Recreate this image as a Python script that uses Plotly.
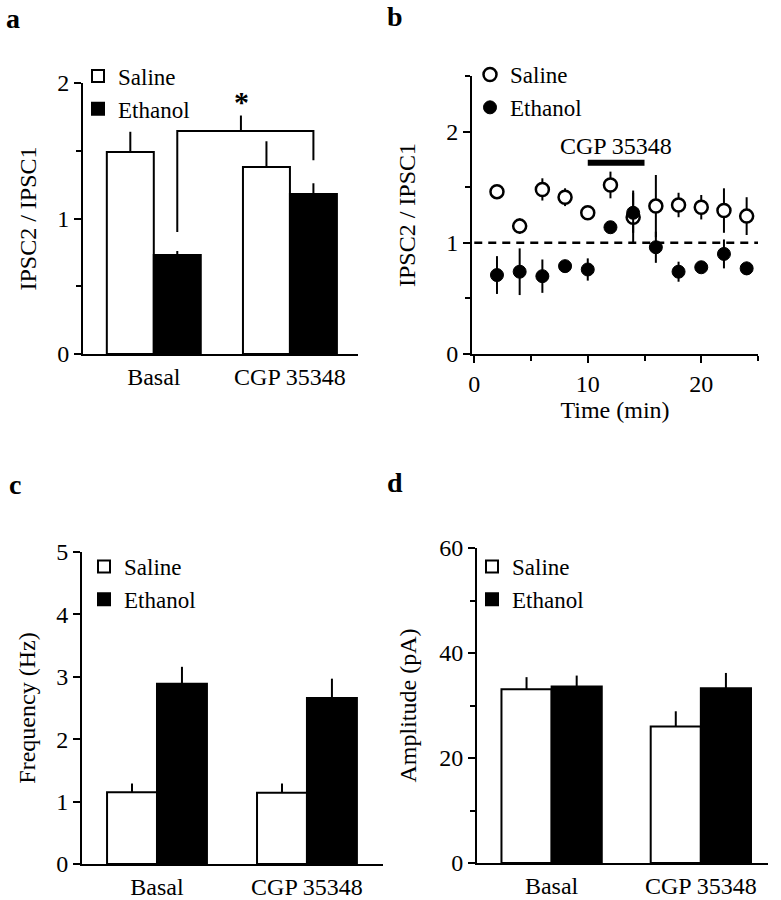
import plotly.graph_objects as go

# ---------------- data ----------------
categories = ["Basal", "CGP 35348"]

# panel a : IPSC2/IPSC1
a_saline = [1.49, 1.38]
a_saline_err = [0.15, 0.19]
a_ethanol = [0.73, 1.18]
a_ethanol_err = [0.03, 0.08]

# panel b : time course
b_time = [2, 4, 6, 8, 10, 12, 14, 16, 18, 20, 22, 24]
b_saline = [1.46, 1.15, 1.48, 1.41, 1.27, 1.52, 1.23, 1.33, 1.34, 1.32, 1.29, 1.24]
b_saline_err = [0.04, 0.07, 0.10, 0.08, 0.03, 0.12, 0.24, 0.28, 0.11, 0.11, 0.20, 0.17]
b_ethanol = [0.71, 0.74, 0.70, 0.79, 0.76, 1.14, 1.27, 0.96, 0.74, 0.78, 0.90, 0.77]
b_ethanol_err = [0.17, 0.21, 0.15, 0.03, 0.10, 0.03, 0.18, 0.14, 0.09, 0.03, 0.13, 0.06]

# panel c : frequency (Hz)
c_saline = [1.15, 1.14]
c_saline_err = [0.14, 0.15]
c_ethanol = [2.89, 2.66]
c_ethanol_err = [0.27, 0.31]

# panel d : amplitude (pA)
d_saline = [33.1, 26.0]
d_saline_err = [2.3, 2.9]
d_ethanol = [33.6, 33.3]
d_ethanol_err = [2.1, 2.9]

FONT = "Liberation Serif, Times New Roman, serif"
FS = 24
W, H = 781, 900

fig = go.Figure()


def add_bars(sal, sal_err, eth, eth_err, xa, ya, leg, bw):
    xs = [0, 1]
    fig.add_trace(go.Bar(
        x=xs, y=sal, width=bw, offset=-bw, name="Saline",
        marker=dict(color="white", line=dict(color="black", width=2)),
        error_y=dict(type="data", array=sal_err, arrayminus=[0, 0], symmetric=False,
                     width=0, thickness=2, color="black"),
        xaxis=xa, yaxis=ya, legend=leg))
    fig.add_trace(go.Bar(
        x=xs, y=eth, width=bw, offset=0, name="Ethanol",
        marker=dict(color="black", line=dict(color="black", width=2)),
        error_y=dict(type="data", array=eth_err, arrayminus=[0, 0], symmetric=False,
                     width=0, thickness=2, color="black"),
        xaxis=xa, yaxis=ya, legend=leg))


add_bars(a_saline, a_saline_err, a_ethanol, a_ethanol_err, "x", "y", "legend", 0.345)
add_bars(c_saline, c_saline_err, c_ethanol, c_ethanol_err, "x3", "y3", "legend3", 0.333)
add_bars(d_saline, d_saline_err, d_ethanol, d_ethanol_err, "x4", "y4", "legend4", 0.336)

# panel b scatter
fig.add_trace(go.Scatter(
    x=b_time, y=b_saline, mode="markers", name="Saline",
    marker=dict(symbol="circle", size=13, color="white", line=dict(color="black", width=2.5)),
    error_y=dict(type="data", array=b_saline_err, width=0, thickness=2, color="black"),
    xaxis="x2", yaxis="y2", legend="legend2"))
fig.add_trace(go.Scatter(
    x=b_time, y=b_ethanol, mode="markers", name="Ethanol",
    marker=dict(symbol="circle", size=13, color="black", line=dict(color="black", width=1)),
    error_y=dict(type="data", array=b_ethanol_err, width=0, thickness=2, color="black"),
    xaxis="x2", yaxis="y2", legend="legend2"))


def xdom(p0, p1):
    return [p0 / W, p1 / W]


def ydom(bottom, top):
    return [1 - bottom / H, 1 - top / H]


axis_common = dict(showline=True, linecolor="black", linewidth=2, showgrid=False,
                   zeroline=False, tickfont=dict(family=FONT, size=FS, color="black"),
                   fixedrange=True, automargin=False)


def yaxis(dom, rng, tickvals, minor_vals, title, xanchor, standoff):
    d = dict(axis_common)
    d.update(domain=dom, range=rng, tickvals=tickvals, ticks="outside", ticklen=7,
             tickwidth=2, tickcolor="black", anchor=xanchor,
             title=dict(text=title, font=dict(family=FONT, size=FS, color="black"),
                        standoff=standoff))
    if minor_vals:
        d["minor"] = dict(tickvals=minor_vals, ticks="outside", ticklen=5, tickwidth=2,
                          tickcolor="black")
    return d


def xaxis_cat(dom, rng, yanchor):
    d = dict(axis_common)
    d.update(domain=dom, range=rng, tickvals=[0, 1], ticktext=categories, ticks="",
             anchor=yanchor)
    return d


xb = dict(axis_common)
xb.update(domain=xdom(472, 758), range=[-0.2, 25], tickvals=[0, 10, 20], ticks="outside",
          ticklen=7, tickwidth=2, tickcolor="black", anchor="y2",
          minor=dict(tickvals=[5, 15, 25], ticks="outside", ticklen=5, tickwidth=2,
                     tickcolor="black"),
          title=dict(text="Time (min)", font=dict(family=FONT, size=FS, color="black"),
                     standoff=3))


def legend(x, y):
    return dict(x=x / W, y=1 - y / H, xanchor="left", yanchor="top",
                bgcolor="rgba(0,0,0,0)", font=dict(family=FONT, size=23, color="black"),
                tracegroupgap=0, itemclick=False, itemdoubleclick=False)


fig.update_layout(
    template="none",
    width=W, height=H, margin=dict(l=0, r=0, t=0, b=0, autoexpand=False),
    paper_bgcolor="white", plot_bgcolor="white", barmode="overlay",
    font=dict(family=FONT, size=FS, color="black"),
    xaxis=xaxis_cat(xdom(83, 358), [-0.52, 1.5], "y"),
    yaxis=yaxis(ydom(354, 83), [0, 2], [0, 1, 2], [0.5, 1.5], "IPSC2 / IPSC1", "x", 14),
    xaxis2=xb,
    yaxis2=yaxis(ydom(354, 76), [0, 2.5], [0, 1, 2], [0.5, 1.5, 2.5], "IPSC2 / IPSC1", "x2", 24),
    xaxis3=xaxis_cat(xdom(82, 383), [-0.5, 1.507], "y3"),
    yaxis3=yaxis(ydom(864, 552), [0, 5], [0, 1, 2, 3, 4, 5], None, "Frequency (Hz)", "x3", 14),
    xaxis4=xaxis_cat(xdom(477, 768), [-0.5, 1.45], "y4"),
    yaxis4=yaxis(ydom(863, 548), [0, 60], [0, 20, 40, 60], [10, 30, 50], "Amplitude (pA)", "x4", 16),
    legend=legend(78, 54.5),
    legend2=legend(470, 53),
    legend3=legend(84, 545),
    legend4=legend(472, 545),
    showlegend=True,
)

# dashed reference line and drug-application bar in panel b
fig.add_shape(type="line", xref="x2", yref="y2", x0=0, x1=25, y0=1, y1=1,
              line=dict(color="black", width=2.5, dash="8px,6px"), layer="below")
fig.add_shape(type="line", xref="x2", yref="y2", x0=10, x1=15, y0=1.72, y1=1.72,
              line=dict(color="black", width=6))
fig.add_annotation(x=12.5, y=1.87, xref="x2", yref="y2", text="CGP 35348", showarrow=False,
                   font=dict(family=FONT, size=FS, color="black"))

# significance bracket in panel a
lx = 0.1725
rx = 1.1725
fig.add_shape(type="path", xref="x", yref="y",
              path=f"M {lx},0.90 L {lx},1.645 L {rx},1.645 L {rx},1.43",
              line=dict(color="black", width=2))
fig.add_shape(type="line", xref="x", yref="y", x0=0.64, x1=0.64, y0=1.645, y1=1.76,
              line=dict(color="black", width=2))
fig.add_annotation(x=0.645, y=1.86, xref="x", yref="y", text="<b>*</b>", showarrow=False,
                   font=dict(family=FONT, size=30, color="black"))

# panel letters
for letter, px, py in [("a", 13, 18), ("b", 395, 17), ("c", 15, 484), ("d", 395, 482)]:
    fig.add_annotation(x=px / W, y=1 - py / H, xref="paper", yref="paper", text=f"<b>{letter}</b>",
                       showarrow=False, xanchor="center", yanchor="middle",
                       font=dict(family=FONT, size=28, color="black"))

fig.write_html("out.html", config={"displayModeBar": False},
               post_script="document.body.style.margin='0px';")
